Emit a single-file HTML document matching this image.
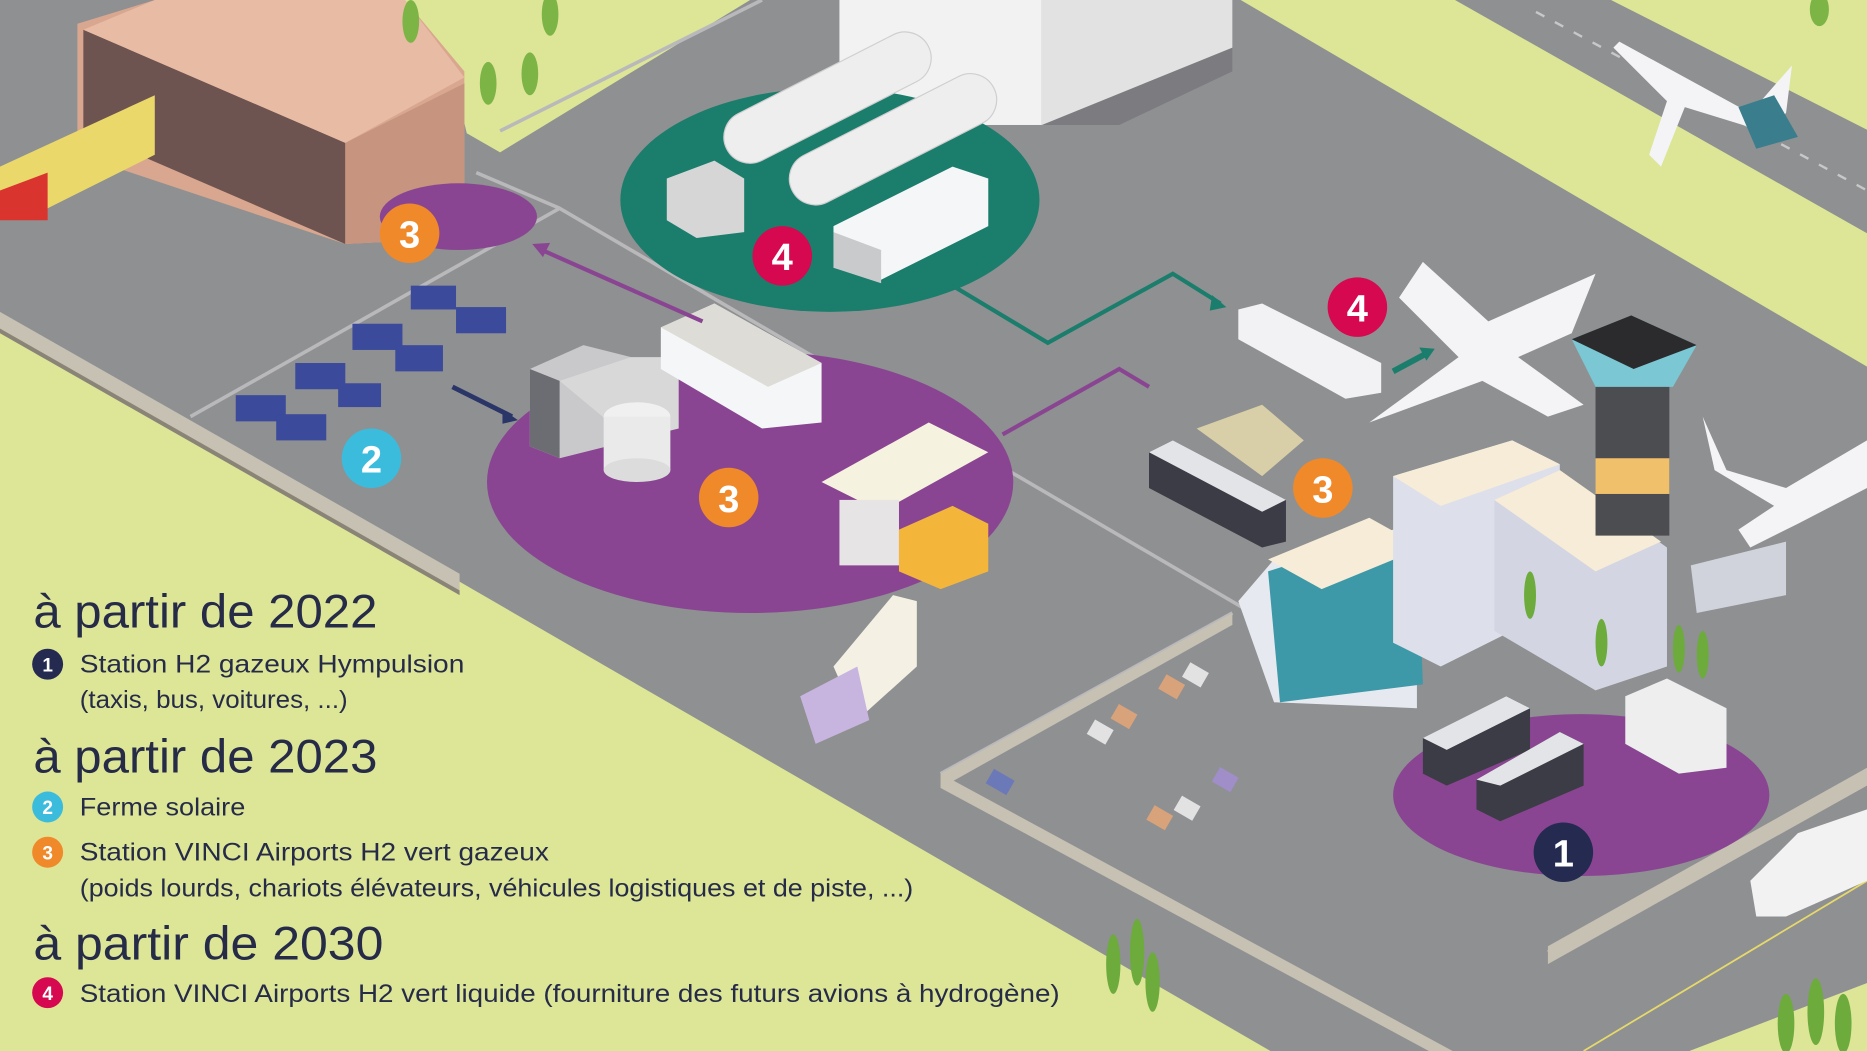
<!DOCTYPE html>
<html><head><meta charset="utf-8"><style>
html,body{margin:0;padding:0;width:1867px;height:1051px;overflow:hidden;background:#dde597}
svg{display:block}
.t{font-family:"Liberation Sans",sans-serif;fill:#262b48}
</style></head><body>
<svg width="1867" height="1051" viewBox="0 0 1568 883" preserveAspectRatio="none" xmlns="http://www.w3.org/2000/svg">
<rect width="1568" height="883" fill="#dde597"/>
<polygon points="0,0 1042,0 1568,308 1568,826 1419,883 1067,883 383,487 0,268" fill="#8f9092"/>
<polygon points="1222,0 1353,0 1568,109 1568,196" fill="#8f9092"/>
<line x1="1290" y1="10" x2="1568" y2="160" stroke="#c8c8c8" stroke-width="2" stroke-dasharray="8 10"/>
<polygon points="315,0 630,0 420,128 392,112 380,60" fill="#dde597"/>
<polygon points="0,262 386,482 386,496 0,276" fill="#c7c1b4"/>
<polygon points="0,276 386,496 386,500 0,280" fill="#8a8478"/>
<g stroke="#b9b9bb" stroke-width="3" fill="none">
<polyline points="160,350 470,175 1060,520"/>
<polyline points="420,110 640,0"/>
<polyline points="400,145 470,175"/>
<polyline points="790,650 1035,515"/>
<polyline points="1300,800 1568,650"/>
</g>
<polygon points="790,650 1220,883 1200,883 790,662" fill="#c7c1b4"/>
<polygon points="790,650 1035,515 1035,525 790,662" fill="#c7c1b4"/>
<polygon points="1300,795 1568,645 1568,660 1300,810" fill="#c7c1b4"/>
<polygon points="1419,883 1568,826 1568,883" fill="#dde597"/>
<line x1="1330" y1="883" x2="1568" y2="740" stroke="#e5d96a" stroke-width="1.5"/>
<polygon points="870,0 1035,0 1035,60 940,105 870,105" fill="#6f7074" opacity="0.6"/>
<rect x="705" y="0" width="170" height="105" fill="#f2f2f2"/>
<polygon points="875,0 1035,0 1035,40 875,105" fill="#e2e2e2"/>
<polygon points="65,20 130,0 340,0 390,60 390,200 290,205 65,130" fill="#d9a78f"/>
<polygon points="70,25 290,120 290,205 70,110" fill="#6e5450"/>
<polygon points="290,120 390,70 390,200 290,205" fill="#c79480"/>
<polygon points="70,25 130,0 340,0 390,65 290,120" fill="#e8bba5"/>
<polygon points="0,140 130,80 130,130 30,180 0,180" fill="#ead86a"/>
<polygon points="0,160 40,145 40,185 0,185" fill="#d9342e"/>
<g fill="#7cb446"><ellipse cx="345" cy="18" rx="7" ry="18"/><ellipse cx="410" cy="70" rx="7" ry="18"/><ellipse cx="445" cy="62" rx="7" ry="18"/><ellipse cx="462" cy="12" rx="7" ry="18"/><ellipse cx="1528" cy="8" rx="8" ry="14"/></g>
<ellipse cx="697" cy="168" rx="176" ry="94" fill="#1b7d6b"/>
<ellipse cx="630" cy="405" rx="221" ry="110" fill="#8a4592"/>
<ellipse cx="385" cy="182" rx="66" ry="28" fill="#8a4592"/>
<ellipse cx="1328" cy="668" rx="158" ry="68" fill="#8a4592"/>
<g fill="#eeeeee" stroke="#cfcfcf">
<rect x="600" y="60" width="190" height="44" rx="22" transform="rotate(-27 695 82)"/>
<rect x="655" y="95" width="190" height="44" rx="22" transform="rotate(-27 750 117)"/>
</g>
<polygon points="560,150 600,135 625,150 625,195 585,200 560,185" fill="#d6d6d6"/>
<polygon points="700,190 800,140 830,150 830,190 740,235 700,225" fill="#f4f6f8"/>
<polygon points="700,195 740,210 740,238 700,225" fill="#c8cacc"/>
<polygon points="445,310 490,290 530,300 530,370 470,385 445,375" fill="#c9c9cb"/>
<polygon points="445,310 470,320 470,385 445,375" fill="#6c6d72"/>
<polygon points="470,320 530,300 570,300 570,360 530,370" fill="#d8d8d8"/>
<ellipse cx="535" cy="350" rx="28" ry="12" fill="#f0f0f0"/><rect x="507" y="350" width="56" height="45" fill="#eaeaea"/><ellipse cx="535" cy="395" rx="28" ry="10" fill="#dcdcdc"/>
<polygon points="555,275 600,255 690,305 690,355 640,360 555,310" fill="#f4f6f8"/>
<polygon points="555,275 600,255 690,305 645,325" fill="#dedcd6"/>
<polygon points="690,405 780,355 830,380 740,430" fill="#f6f2e0"/>
<rect x="705" y="420" width="50" height="55" fill="#e7e4e6"/>
<polygon points="755,445 800,425 830,440 830,480 790,495 755,480" fill="#f3b63a"/>
<polygon points="700,560 750,500 770,505 770,560 720,605" fill="#f4f1e4"/>
<polygon points="672,585 720,560 730,605 685,625" fill="#c7b5e0"/>
<polygon points="1040,505 1070,470 1190,440 1190,595 1070,590" fill="#e6e9ef"/>
<polygon points="1065,480 1190,440 1195,575 1075,590" fill="#3d98a8"/>
<polygon points="1065,470 1150,435 1195,460 1110,495" fill="#f7ecd8"/>
<polygon points="1170,400 1270,370 1310,390 1310,510 1210,560 1170,540" fill="#dde0ea"/>
<polygon points="1170,400 1270,370 1310,390 1210,425" fill="#f7ecd8"/>
<polygon points="1255,420 1310,395 1400,460 1400,560 1340,580 1255,530" fill="#d3d6e2"/>
<polygon points="1255,420 1310,395 1395,455 1340,480" fill="#f7ecd8"/>
<polygon points="1420,475 1500,455 1500,500 1425,515" fill="#d0d3dc"/>
<rect x="1340" y="315" width="62" height="135" fill="#4c4d51"/>
<rect x="1340" y="385" width="62" height="30" fill="#f0c06b"/>
<polygon points="1320,285 1370,265 1425,290 1405,325 1340,325" fill="#7cc7d4"/>
<polygon points="1320,285 1370,265 1425,290 1372,310" fill="#2b2b2d"/>
<g fill="#f4f4f6">
<polygon points="1175,250 1195,220 1250,270 1340,230 1320,280 1275,300 1330,340 1300,350 1245,320 1150,355 1225,300"/>
<polygon points="1430,350 1450,395 1500,410 1568,370 1568,410 1510,440 1470,460 1460,445 1490,425 1440,395"/>
<polygon points="1355,40 1360,35 1470,95 1505,55 1500,95 1480,110 1415,90 1395,140 1385,130 1400,85"/>
</g>
<polygon points="1460,90 1490,80 1510,115 1475,125" fill="#3a7d8c"/>
<polygon points="1040,260 1060,255 1160,305 1160,330 1130,335 1040,285" fill="#f2f2f4"/>
<polygon points="965,380 985,370 1080,420 1080,455 1060,460 965,410" fill="#3b3c45"/>
<polygon points="965,380 985,370 1080,420 1060,430" fill="#e3e4e8"/>
<polygon points="1005,360 1060,340 1095,370 1060,400" fill="#d8cfa8"/>
<polygon points="1195,620 1265,585 1285,595 1285,630 1215,660 1195,650" fill="#3b3c45"/>
<polygon points="1240,655 1310,615 1330,625 1330,660 1260,690 1240,680" fill="#3b3c45"/>
<polygon points="1195,620 1265,585 1285,595 1215,630" fill="#e3e4e8"/>
<polygon points="1240,655 1310,615 1330,625 1260,660" fill="#e3e4e8"/>
<polygon points="1365,585 1400,570 1450,595 1450,645 1410,650 1365,625" fill="#eeeeee"/>
<polygon points="1470,740 1510,700 1568,680 1568,740 1500,770 1475,770" fill="#f2f2f2"/>
<g fill="#d8a27a"><rect x="975" y="570" width="18" height="14" transform="rotate(30 984 577)"/><rect x="935" y="595" width="18" height="14" transform="rotate(30 944 602)"/><rect x="965" y="680" width="18" height="14" transform="rotate(30 974 687)"/></g>
<g fill="#e2e2e2"><rect x="995" y="560" width="18" height="14" transform="rotate(30 1004 567)"/><rect x="915" y="608" width="18" height="14" transform="rotate(30 924 615)"/><rect x="988" y="672" width="18" height="14" transform="rotate(30 997 679)"/></g>
<rect x="1020" y="648" width="18" height="14" fill="#9f8ec8" transform="rotate(30 1029 655)"/>
<rect x="830" y="650" width="20" height="14" fill="#6c79b8" transform="rotate(30 840 657)"/>
<g fill="#6cab3c"><ellipse cx="935" cy="810" rx="6" ry="25"/><ellipse cx="955" cy="800" rx="6" ry="28"/><ellipse cx="968" cy="825" rx="6" ry="25"/><ellipse cx="1500" cy="860" rx="7" ry="25"/><ellipse cx="1525" cy="850" rx="7" ry="28"/><ellipse cx="1548" cy="860" rx="7" ry="25"/><ellipse cx="1285" cy="500" rx="5" ry="20"/><ellipse cx="1345" cy="540" rx="5" ry="20"/><ellipse cx="1410" cy="545" rx="5" ry="20"/><ellipse cx="1430" cy="550" rx="5" ry="20"/></g>
<!-- solar panels -->
<g fill="#3b4a9a">
<rect x="198" y="332" width="42" height="22"/>
<rect x="232" y="348" width="42" height="22"/>
<rect x="248" y="305" width="42" height="22"/>
<rect x="284" y="322" width="36" height="20"/>
<rect x="296" y="272" width="42" height="22"/>
<rect x="332" y="290" width="40" height="22"/>
<rect x="345" y="240" width="38" height="20"/>
<rect x="383" y="258" width="42" height="22"/>
</g>
<g fill="none" stroke-width="3.5">
<polyline points="455,210 590,270" stroke="#8a4592"/>
<polyline points="800,240 880,288 985,230 1025,255" stroke="#1b7d6b"/>
<polyline points="842,365 940,310 965,325 M890,335 970,355 M868,348 935,378 M915,320 995,345" stroke="#8a4592"/>
<polyline points="380,325 430,350" stroke="#2a3568" stroke-width="4"/>
<polyline points="1170,312 1198,297" stroke="#1b7d6b" stroke-width="5"/>
</g>
<g>
<polygon points="447,205 462,204 456,216" fill="#8a4592"/>
<polygon points="1030,258 1018,248 1016,261" fill="#1b7d6b"/>
<polygon points="435,353 422,344 422,356" fill="#2a3568"/>
<polygon points="1205,293 1192,292 1198,303" fill="#1b7d6b"/>
</g>
<g font-family="Liberation Sans,sans-serif" font-weight="bold" font-size="32" fill="#fff" text-anchor="middle">
<circle cx="344" cy="196" r="25" fill="#f0892a"/><text x="344" y="208">3</text>
<circle cx="657" cy="215" r="25" fill="#d6084f"/><text x="657" y="227">4</text>
<circle cx="1140" cy="258" r="25" fill="#d6084f"/><text x="1140" y="270">4</text>
<circle cx="312" cy="385" r="25" fill="#3cbcdc"/><text x="312" y="397">2</text>
<circle cx="612" cy="418" r="25" fill="#f0892a"/><text x="612" y="430">3</text>
<circle cx="1111" cy="410" r="25" fill="#f0892a"/><text x="1111" y="422">3</text>
<circle cx="1313" cy="716" r="25" fill="#242a50"/><text x="1313" y="728">1</text>
</g>
<text class="t" x="28" y="527" font-size="40" textLength="289" lengthAdjust="spacingAndGlyphs">à partir de 2022</text>
<text class="t" x="28" y="649" font-size="40" textLength="289" lengthAdjust="spacingAndGlyphs">à partir de 2023</text>
<text class="t" x="28" y="806" font-size="40" textLength="294" lengthAdjust="spacingAndGlyphs">à partir de 2030</text>
<g font-family="Liberation Sans,sans-serif" font-weight="bold" font-size="16" fill="#fff" text-anchor="middle">
<circle cx="40" cy="558" r="13" fill="#242a50"/><text x="40" y="564">1</text>
<circle cx="40" cy="678" r="13" fill="#3cbcdc"/><text x="40" y="684">2</text>
<circle cx="40" cy="716" r="13" fill="#f0892a"/><text x="40" y="722">3</text>
<circle cx="40" cy="834" r="13" fill="#d6084f"/><text x="40" y="840">4</text>
</g>
<g class="t" font-size="21">
<text class="t" x="67" y="565" textLength="323" lengthAdjust="spacingAndGlyphs">Station H2 gazeux Hympulsion</text>
<text class="t" x="67" y="595" textLength="225" lengthAdjust="spacingAndGlyphs">(taxis, bus, voitures, ...)</text>
<text class="t" x="67" y="685" textLength="139" lengthAdjust="spacingAndGlyphs">Ferme solaire</text>
<text class="t" x="67" y="723" textLength="394" lengthAdjust="spacingAndGlyphs">Station VINCI Airports H2 vert gazeux</text>
<text class="t" x="67" y="753" textLength="700" lengthAdjust="spacingAndGlyphs">(poids lourds, chariots élévateurs, véhicules logistiques et de piste, ...)</text>
<text class="t" x="67" y="842" textLength="823" lengthAdjust="spacingAndGlyphs">Station VINCI Airports H2 vert liquide (fourniture des futurs avions à hydrogène)</text>
</g>
</svg>
</body></html>
